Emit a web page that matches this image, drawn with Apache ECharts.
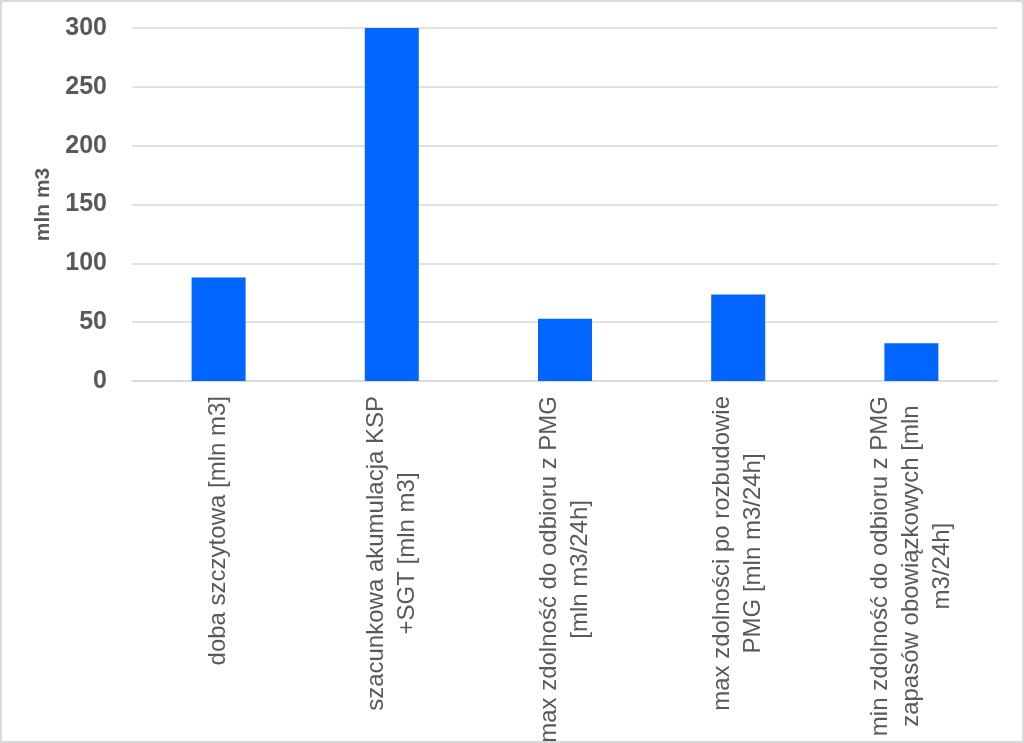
<!DOCTYPE html>
<html>
<head>
<meta charset="utf-8">
<script src="https://cdn.jsdelivr.net/npm/echarts@6/dist/echarts.min.js"></script>
<style>
  html, body { margin: 0; padding: 0; background: #fff; }
  #chart { width: 1024px; height: 743px; box-sizing: border-box; border: 2px solid #d9d9d9; }
</style>
</head>
<body>
<div id="chart"></div>
<script>
// kategorie (podpisy osi X, z łamaniem wierszy jak na wykresie)
const categories = [
  'doba szczytowa [mln m3]',
  'szacunkowa akumulacja KSP\n+SGT [mln m3]',
  'max zdolność do odbioru z PMG\n[mln m3/24h]',
  'max zdolności po rozbudowie\nPMG [mln m3/24h]',
  'min zdolność do odbioru z PMG\nzapasów obowiązkowych [mln\nm3/24h]'
];
// wartości słupków
const values = [88, 300, 53, 73.5, 32];
// oś Y
const yName = 'mln m3';
const yMin = 0;
const yMax = 300;
const yStep = 50;

const chart = echarts.init(document.getElementById('chart'));

chart.setOption({
  animation: false,
  grid: { left: 130, right: 24, top: 26, bottom: 360, outerBoundsMode: 'none', containLabel: false },
  xAxis: {
    type: 'category',
    data: categories,
    axisLine: { show: true, lineStyle: { color: '#d9d9d9', width: 1.5 } },
    axisTick: { show: false },
    axisLabel: {
      interval: 0,
      rotate: 90,
      margin: 15,
      // każdy wiersz wyśrodkowany względem najdłuższego
      formatter: (v) => v.split('\n').map(s => '{c|' + s + '}').join('\n'),
      rich: {
        c: {
          align: 'center',
          fontSize: 24,
          lineHeight: 31,
          color: '#595959',
          fontFamily: '"Liberation Sans", Arial, sans-serif'
        }
      }
    }
  },
  yAxis: {
    type: 'value',
    min: yMin,
    max: yMax,
    interval: yStep,
    name: yName,
    nameLocation: 'middle',
    nameGap: 78,
    nameTextStyle: {
      fontSize: 21,
      fontWeight: 'bold',
      color: '#595959',
      fontFamily: '"Liberation Sans", Arial, sans-serif'
    },
    axisLine: { show: false },
    axisTick: { show: false },
    axisLabel: {
      margin: 25,
      fontSize: 25,
      fontWeight: 'bold',
      color: '#595959',
      fontFamily: '"Liberation Sans", Arial, sans-serif'
    },
    splitLine: { lineStyle: { color: '#d9d9d9', width: 1.5 } }
  },
  series: [{
    type: 'bar',
    data: values,
    barWidth: 54,
    itemStyle: { color: '#0066ff' }
  }]
});
</script>
</body>
</html>
